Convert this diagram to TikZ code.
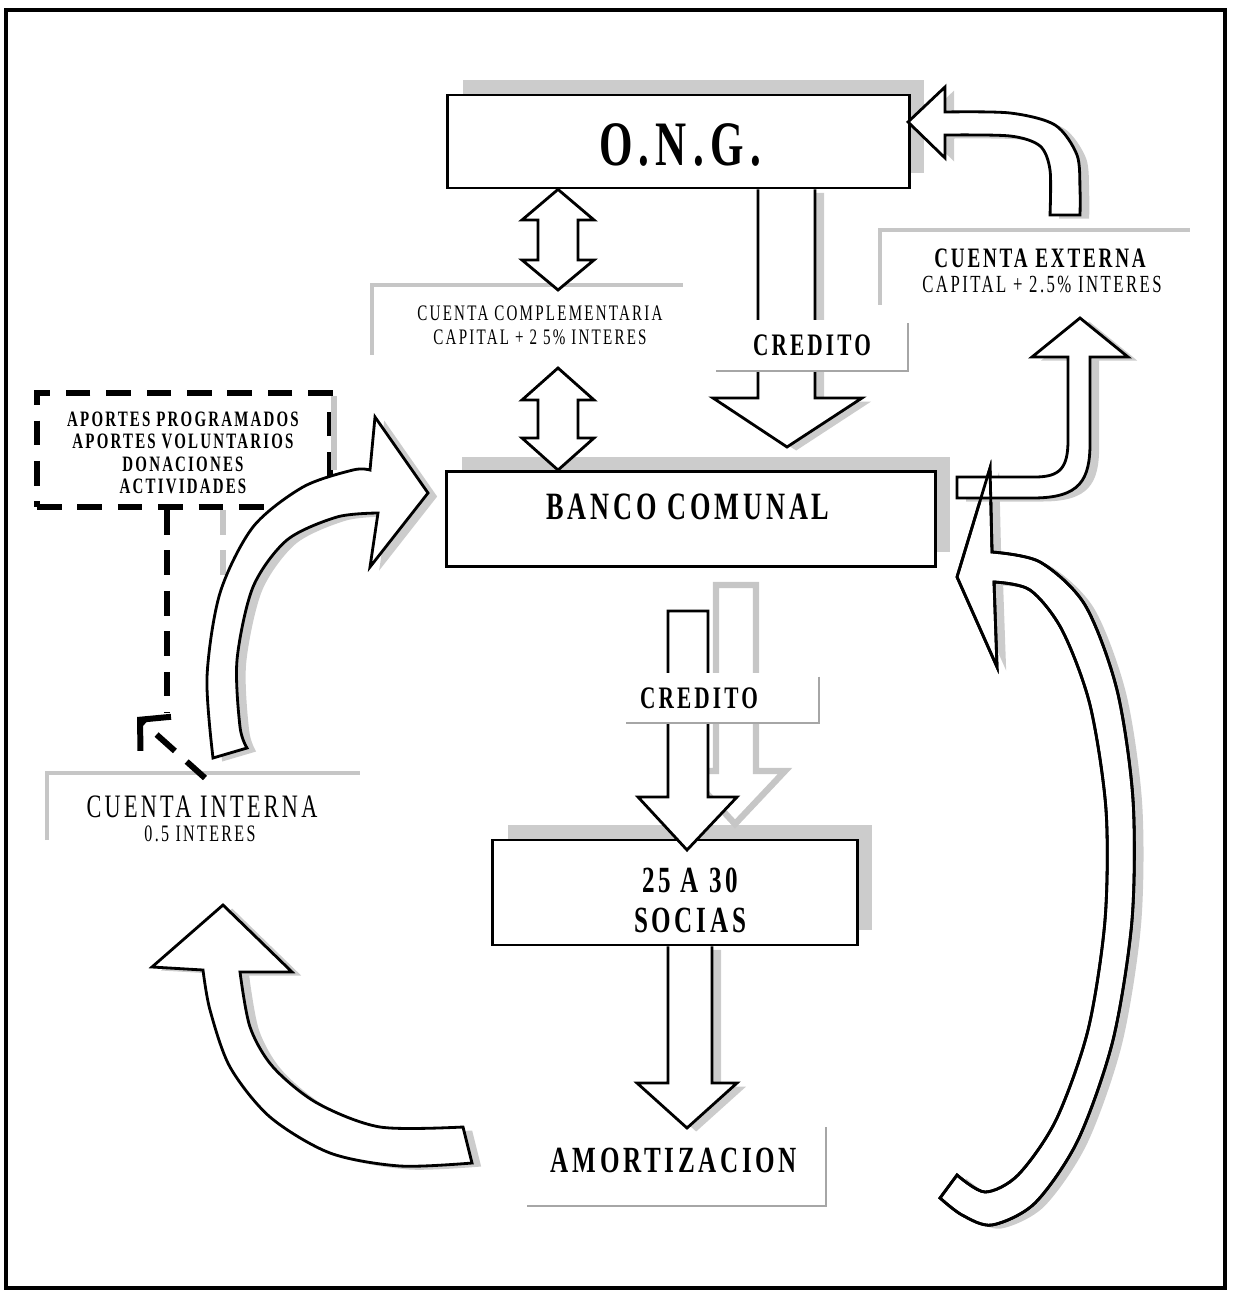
\documentclass[tikz,border=0pt]{standalone}
\usepackage{fontspec}
\setmainfont{Liberation Serif}
\newfontfamily\scanfont[LetterSpace=10,FakeStretch=0.68]{Liberation Serif}
\usetikzlibrary{shadows,arrows.meta}

\begin{document}
\begin{tikzpicture}[x=0.01cm,y=-0.01cm,
    box/.style={draw,line width=0.8pt,fill=white,inner sep=0pt,
      drop shadow={shadow xshift=4.2pt,shadow yshift=4.2pt,fill=gray!40,opacity=1}},
    blk/.style={draw,line width=0.8pt,fill=white,line join=miter},
    shd/.style={drop shadow={shadow xshift=2.6pt,shadow yshift=-1pt,fill=gray!40,opacity=1}},
    txt/.style={inner sep=0pt,align=center},
    edge/.style={draw=gray!45,line width=1.3pt},
    tag/.style={draw=gray!70,line width=0.5pt},
    dsh/.style={line width=1.7pt,dash pattern=on 7pt off 4.5pt}
  ]
  \useasboundingbox (0,0) rectangle (1232,1295);
  \draw[line width=1pt] (6,10) rectangle (1225,1288);

  % the three boxes
  \node[box,minimum width=4.61cm,minimum height=0.93cm] (ong) at (678.5,141.5) {};
  \node[txt,font=\scanfont\bfseries\fontsize{18}{20}\selectfont] (ongtxt) at (680,145) {O.N.G.};
  \node[box,minimum width=4.88cm,minimum height=0.95cm] (banco) at (691,519) {};
  \node[txt,font=\scanfont\bfseries\fontsize{11}{12}\selectfont] (bancotxt) at (688,507) {BANCO COMUNAL};
  \node[box,minimum width=3.64cm,minimum height=1.05cm] (socias) at (675,892.5) {};
  \node[txt,font=\scanfont\bfseries\fontsize{10.5}{11.4}\selectfont] (sociastxt) at (690,900) {25 A 30\\SOCIAS};

  % cuentas
  \draw[edge] (372,355) |- (683,285);
  \node[txt,font=\scanfont\fontsize{6.3}{6.8}\selectfont] (ccomp) at (540,325)
    {CUENTA COMPLEMENTARIA\\CAPITAL + 2 5\% INTERES};
  \draw[edge] (880,305) |- (1190,230);
  \node[txt,font=\scanfont\bfseries\fontsize{8}{9}\selectfont] (cext) at (1040,258) {CUENTA EXTERNA};
  \node[txt,font=\scanfont\fontsize{7}{8}\selectfont] (cextcap) at (1042,284) {CAPITAL + 2.5\% INTERES};
  \draw[edge] (47,840) |- (360,773);
  \node[txt,font=\scanfont\fontsize{9.3}{10}\selectfont] (cint) at (202,807) {CUENTA INTERNA};
  \node[txt,font=\scanfont\fontsize{6.7}{7}\selectfont] (cintint) at (200,834) {0.5 INTERES};

  % aportes
  \node[draw,dsh,minimum width=2.93cm,minimum height=1.14cm] (aportes) at (183.5,450) {};
  \node[txt,font=\scanfont\bfseries\fontsize{6.25}{6.35}\selectfont] (aportestxt) at (183,453)
    {APORTES PROGRAMADOS\\APORTES VOLUNTARIOS\\DONACIONES\\ACTIVIDADES};
  \draw[gray!45,line width=1.6pt] (334,396) -- (334,470);
  \draw[dsh,gray!45] (223,510) -- (223,592);
  \draw[dsh] (aportes.south -| 167,0) -- (167,713);
  \draw[dsh,-{Straight Barb[length=6pt,width=13pt]}] (205,778) -- (137,717);

  % double arrows
  \draw[blk] (ong.south -| 558,0) -- (594,220) -- (578,220) -- (578,260) -- (594,260) -- (558,290)
    -- (522,260) -- (538,260) -- (538,220) -- (522,220) -- cycle;
  \draw[blk] (558,368) -- (594,400) -- (578,400) -- (578,438) -- (594,438) -- (banco.north -| 558,0)
    -- (522,438) -- (538,438) -- (538,400) -- (522,400) -- cycle;

  % credito arrows
  \draw[blk,shd] (ong.south -| 758,0) -- (758,398) -- (713,398) -- (787,447) -- (862,398) -- (815,398)
    -- (ong.south -| 815,0);
  \node[txt,fill=white,minimum width=1.91cm,minimum height=0.5cm,
    font=\scanfont\bfseries\fontsize{8.9}{10}\selectfont] (cred) at (812,345) {CREDITO};
  \draw[tag] ([yshift=-1.2pt]cred.north east) |- (cred.south west);

  \draw[gray!45,line width=1.8pt,fill=white,shift={(48,-26)}] (668,611) -- (668,797) -- (638,797)
    -- (687,850) -- (737,797) -- (708,797) -- (708,611) -- cycle;
  \draw[blk] (668,611) -- (668,797) -- (638,797) -- (687,850) -- (737,797) -- (708,797) -- (708,611) -- cycle;
  \node[fill=white,inner sep=0pt,minimum width=1.91cm,minimum height=0.49cm] (credb) at (722.5,697.5) {};
  \node[txt,font=\scanfont\bfseries\fontsize{8.9}{10}\selectfont] (credbtxt) at (699,698) {CREDITO};
  \draw[tag] ([yshift=-1.2pt]credb.north east) |- (credb.south west);

  \draw[blk,shd] (socias.south -| 668,0) -- (668,1083) -- (637,1083) -- (687,1128) -- (737,1083)
    -- (712,1083) -- (socias.south -| 712,0);
  \node[inner sep=0pt,minimum width=2.97cm,minimum height=0.77cm] (amort) at (676.5,1166.5) {};
  \node[txt,font=\scanfont\bfseries\fontsize{10.5}{11}\selectfont] (amorttxt) at (674,1160) {AMORTIZACION};
  \draw[tag] (amort.north east) |- (amort.south west);

  % curved arrows
  \draw[blk,shd] plot[smooth] coordinates {(213,758) (207,677) (220,593) (253,527) (303,487) (353,470) (370,470)}
    -- (375,417) -- (428,493) -- (370,567) -- (378,513)
    -- plot[smooth] coordinates {(378,513) (337,517) (287,540) (253,587) (237,660) (240,727) (247,748)} -- cycle;

  \draw[blk,shd] (152,967) -- (223,905) -- (292,972) -- (240,972)
    -- plot[smooth] coordinates {(240,972) (250,1027) (273,1067) (317,1103) (380,1127) (463,1127)}
    -- (472,1163)
    -- plot[smooth] coordinates {(472,1163) (400,1166) (330,1153) (270,1117) (230,1067) (210,1010) (203,970)}
    -- cycle;

  \draw[blk,shd] (908,122) -- (945,87) -- (945,112)
    -- plot[smooth] coordinates {(945,112) (1010,113) (1055,125) (1077,155) (1080,190) (1080,215)}
    -- (1050,215)
    -- plot[smooth] coordinates {(1050,215) (1050,170) (1040,146) (1010,136) (945,135)}
    -- (945,158) -- cycle;

  \def\bigarc{(957,577) -- (990,468) -- (992,552)
    -- plot[smooth] coordinates {(992,552) (1040,562) (1085,605) (1117,690) (1133,800) (1132,920)
      (1113,1040) (1078,1140) (1035,1203) (992,1225) (962,1215) (940,1198)}
    -- (957,1175)
    -- plot[smooth] coordinates {(957,1175) (985,1192) (1018,1175) (1056,1120) (1088,1030) (1105,920)
      (1106,810) (1090,705) (1062,630) (1030,590) (994,582)}
    -- (997,667) -- cycle}
  \draw[blk,shd] \bigarc;

  \draw[blk,shd] (957,498) -- (1033,498) .. controls (1080,498) and (1090,480) .. (1090,443)
    -- (1090,357) -- (1128,357) -- (1080,318) -- (1032,357) -- (1068,357) -- (1068,440)
    .. controls (1068,468) and (1060,477) .. (1035,477) -- (957,477) -- cycle;
  \draw[line width=0.8pt] \bigarc;
\end{tikzpicture}
\end{document}
